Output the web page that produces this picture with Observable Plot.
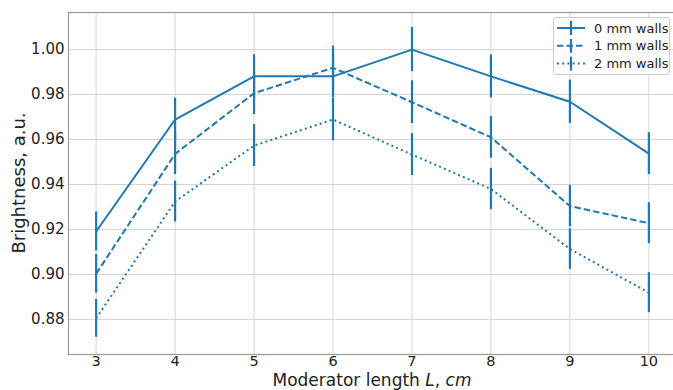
<!DOCTYPE html>
<html>
<head>
<meta charset="utf-8">
<script src="https://cdn.jsdelivr.net/npm/d3@7"></script>
<script src="https://cdn.jsdelivr.net/npm/@observablehq/plot@0.6"></script>
<style>
  html, body { margin: 0; padding: 0; background: #fff; }
  #wrap { position: relative; width: 673px; height: 390px; overflow: hidden; font-family: "DejaVu Sans", sans-serif; }
  #legend { position: absolute; left: 553px; top: 17px; width: 117px; height: 58px;
            background: rgba(255,255,255,0.85); border: 1px solid #cccccc; border-radius: 3px; box-sizing: border-box; }
</style>
</head>
<body>
<div id="wrap"><div id="legend"></div></div>
<script>
// ---- data ----
const lengths = [3, 4, 5, 6, 7, 8, 9, 10];
const bright0 = [0.9191, 0.9689, 0.9881, 0.9881, 1.0000, 0.9881, 0.9768, 0.9537];
const bright1 = [0.9003, 0.9536, 0.9806, 0.9919, 0.9766, 0.9610, 0.9304, 0.9228];
const bright2 = [0.8805, 0.9324, 0.9573, 0.9689, 0.9533, 0.9380, 0.9113, 0.8919];
const err0 = [0.0087, 0.0095, 0.0096, 0.0096, 0.0098, 0.0096, 0.0096, 0.0093];
const err1 = [0.0086, 0.0092, 0.0095, 0.0096, 0.0095, 0.0093, 0.0092, 0.0091];
const err2 = [0.0084, 0.0091, 0.0093, 0.0094, 0.0093, 0.0092, 0.0090, 0.0089];
const seriesNames = ["0 mm walls", "1 mm walls", "2 mm walls"];
const xTicks = [3, 4, 5, 6, 7, 8, 9, 10];
const yTicks = [0.88, 0.90, 0.92, 0.94, 0.96, 0.98, 1.00];

// ---- styles ----
const color = "#1f77b4";
const dashes = [null, "6.5,3", "2,3.2"];

const allB = [bright0, bright1, bright2];
const allE = [err0, err1, err2];
const rows = [];
seriesNames.forEach((s, i) => lengths.forEach((L, j) =>
  rows.push({series: s, L, b: allB[i][j], lo: allB[i][j] - allE[i][j], hi: allB[i][j] + allE[i][j]})));

const marks = [
  Plot.gridX(xTicks, {stroke: "#d4d4d4", strokeOpacity: 1, strokeWidth: 1}),
  Plot.gridY(yTicks, {stroke: "#d4d4d4", strokeOpacity: 1, strokeWidth: 1}),
];
seriesNames.forEach((s, i) => {
  const d = rows.filter(r => r.series === s);
  marks.push(Plot.line(d, {x: "L", y: "b", stroke: color, strokeWidth: 2,
    strokeDasharray: dashes[i], strokeLinecap: "butt", strokeLinejoin: "round"}));
  marks.push(Plot.ruleX(d, {x: "L", y1: "lo", y2: "hi", stroke: color, strokeWidth: 2.2}));
});
marks.push(Plot.frame({stroke: "#999", strokeWidth: 1.2}));
marks.push(Plot.axisX(xTicks, {tickSize: 0, tickPadding: 1.5, fontSize: 14.5, fill: "#222", label: null}));
marks.push(Plot.axisY(yTicks, {tickSize: 0, tickPadding: 4, fontSize: 15, fill: "#222", label: null,
  tickFormat: d => d.toFixed(2)}));

const chart = Plot.plot({
  width: 673, height: 390,
  marginLeft: 68, marginRight: -3, marginTop: 12, marginBottom: 36,
  style: {fontFamily: "DejaVu Sans, sans-serif", overflow: "visible", background: "transparent"},
  x: {domain: [2.65, 10.35]},
  y: {domain: [0.8644, 1.0165]},
  marks
});
const wrap = document.getElementById("wrap");
wrap.insertBefore(chart, wrap.firstChild);

// axis titles
const svg = d3.select(chart);
const xl = svg.append("text").attr("x", 372).attr("y", 386).attr("text-anchor", "middle")
  .attr("font-size", 17).attr("fill", "#222").attr("font-family", "DejaVu Sans, sans-serif");
xl.append("tspan").text("Moderator length ");
xl.append("tspan").attr("font-style", "italic").text("L");
xl.append("tspan").text(", ");
xl.append("tspan").attr("font-style", "italic").text("cm");
svg.append("text").attr("transform", "translate(25,183) rotate(-90)").attr("text-anchor", "middle")
  .attr("font-size", 18).attr("fill", "#222").attr("font-family", "DejaVu Sans, sans-serif")
  .text("Brightness, a.u.");

// legend
const lg = d3.select("#legend").append("svg").attr("width", 117).attr("height", 58);
seriesNames.forEach((s, i) => {
  const cy = 10 + i * 17.8;
  lg.append("line").attr("x1", 3).attr("x2", 31).attr("y1", cy).attr("y2", cy)
    .attr("stroke", color).attr("stroke-width", 2).attr("stroke-dasharray", dashes[i]);
  lg.append("line").attr("x1", 17).attr("x2", 17).attr("y1", cy - 7).attr("y2", cy + 7)
    .attr("stroke", color).attr("stroke-width", 2.2);
  lg.append("text").attr("x", 40).attr("y", cy).attr("dy", "0.36em")
    .attr("font-size", 13).attr("fill", "#222").attr("font-family", "DejaVu Sans, sans-serif").text(s);
});
</script>
</body>
</html>
